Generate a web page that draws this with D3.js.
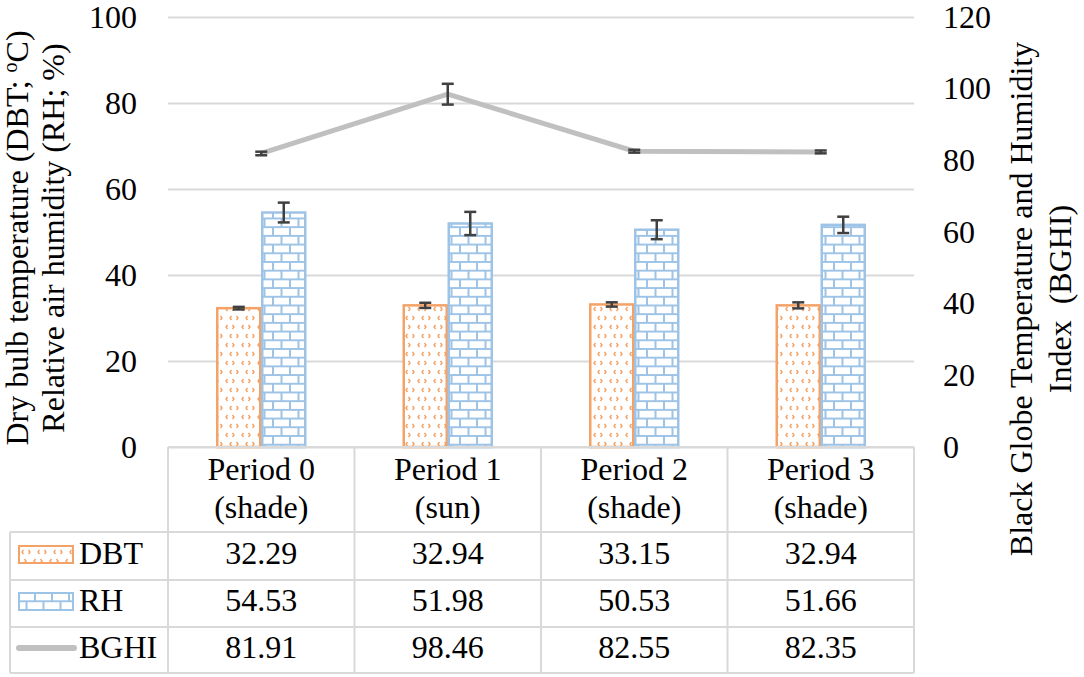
<!DOCTYPE html>
<html>
<head>
<meta charset="utf-8">
<script src="https://cdn.jsdelivr.net/npm/d3@7"></script>
<style>
  body { margin: 0; background: #fff; }
  svg text { font-family: 'Liberation Serif', 'Times New Roman', Tinos, 'DejaVu Serif', serif !important; fill: #000; }
</style>
</head>
<body>
<svg id="chart" width="1084" height="677"></svg>
<script>
// data
var periods = ["Period 0", "Period 1", "Period 2", "Period 3"];
var periodSub = ["(shade)", "(sun)", "(shade)", "(shade)"];
var dbt = [32.29, 32.94, 33.15, 32.94];
var dbtErr = [0.3, 0.6, 0.5, 0.7];
var rh = [54.53, 51.98, 50.53, 51.66];
var rhErr = [2.3, 2.7, 2.2, 1.9];
var bghi = [81.91, 98.46, 82.55, 82.35];
var bghiErr = [0.5, 2.9, 0.4, 0.4];
var leftTicks = [0, 20, 40, 60, 80, 100];
var rightTicks = [0, 20, 40, 60, 80, 100, 120];

var svg = d3.select('#chart');
var plotL = 168, plotR = 914, plotT = 17, plotB = 447;
var gridColor = '#d9d9d9';
var serif = "'Liberation Serif', 'Times New Roman', Tinos, 'DejaVu Serif', serif";

var yL = d3.scaleLinear().domain([0, 100]).range([plotB, plotT]);
var yR = d3.scaleLinear().domain([0, 120]).range([plotB, plotT]);
var x = d3.scaleBand().domain(periods).range([plotL, plotR]);
var xs = d3.scaleBand().domain(['DBT', 'RH']).range([0, 90]);

// patterns
var defs = svg.append('defs');
var pDots = defs.append('pattern')
  .attr('id', 'dots').attr('patternUnits', 'userSpaceOnUse')
  .attr('width', 16).attr('height', 18);
pDots.append('rect').attr('width', 16).attr('height', 18).attr('fill', '#fff');
[[2, 3, 1], [10, 3, -1], [6, 12, 1], [14, 12, -1]].forEach(function (m) {
  pDots.append('path')
    .attr('d', 'M' + (m[0] + 1.5 * m[2]) + ' ' + (m[1] - 2) + ' L' + m[0] + ' ' + m[1] + ' L' + (m[0] + 1.5 * m[2]) + ' ' + (m[1] + 2))
    .attr('fill', 'none').attr('stroke', '#f4a266').attr('stroke-width', 1.4);
});

var pBrick = defs.append('pattern')
  .attr('id', 'brick').attr('patternUnits', 'userSpaceOnUse')
  .attr('width', 34).attr('height', 17.4);
pBrick.append('rect').attr('width', 34).attr('height', 17.4).attr('fill', '#fff');
pBrick.append('path')
  .attr('d', 'M0 1 H34 M0 9.7 H34 M1 1 V9.7 M18 1 V9.7 M9.5 9.7 V17.4 M26.5 9.7 V17.4')
  .attr('stroke', '#9dc3e6').attr('stroke-width', 2).attr('fill', 'none');

// gridlines + left axis
var gL = svg.append('g').attr('transform', 'translate(' + plotL + ',0)')
  .call(d3.axisLeft(yL).tickValues(leftTicks).tickSize(-(plotR - plotL)).tickPadding(31));
gL.attr('font-family', serif);
gL.select('.domain').remove();
gL.selectAll('.tick line').attr('stroke', gridColor).attr('stroke-width', 2);
gL.selectAll('.tick text').attr('font-size', 32).attr('fill', '#000');

// right axis
var gR = svg.append('g').attr('transform', 'translate(' + plotR + ',0)')
  .call(d3.axisRight(yR).tickValues(rightTicks).tickSize(0).tickPadding(29));
gR.attr('font-family', serif);
gR.select('.domain').remove();
gR.selectAll('.tick text').attr('font-size', 32).attr('fill', '#000');

// bars
function barX(i, s) { return x(periods[i]) + x.bandwidth() / 2 - 45 + xs(s); }

svg.append('g').selectAll('rect').data(dbt).join('rect')
  .attr('x', function (d, i) { return barX(i, 'DBT') + 1; })
  .attr('y', function (d) { return yL(d); })
  .attr('width', xs.bandwidth() - 2)
  .attr('height', function (d) { return plotB - yL(d); })
  .attr('fill', 'url(#dots)').attr('stroke', '#f4a266').attr('stroke-width', 2.5);

svg.append('g').selectAll('rect').data(rh).join('rect')
  .attr('x', function (d, i) { return barX(i, 'RH') + 1; })
  .attr('y', function (d) { return yL(d); })
  .attr('width', xs.bandwidth() - 2)
  .attr('height', function (d) { return plotB - yL(d); })
  .attr('fill', 'url(#brick)').attr('stroke', '#9dc3e6').attr('stroke-width', 2.5);

// BGHI line
var line = d3.line()
  .x(function (d, i) { return x(periods[i]) + x.bandwidth() / 2; })
  .y(function (d) { return yR(d); });
svg.append('path').datum(bghi)
  .attr('d', line).attr('fill', 'none')
  .attr('stroke', '#c0c0c0').attr('stroke-width', 5);

// error bars
function errBars(vals, errs, cx, y) {
  var g = svg.append('g').attr('stroke', '#404040').attr('stroke-width', 2.5);
  vals.forEach(function (v, i) {
    var c = cx(i);
    var y1 = y(v + errs[i]), y2 = y(v - errs[i]);
    g.append('line').attr('x1', c).attr('x2', c).attr('y1', y1).attr('y2', y2);
    g.append('line').attr('x1', c - 6).attr('x2', c + 6).attr('y1', y1).attr('y2', y1);
    g.append('line').attr('x1', c - 6).attr('x2', c + 6).attr('y1', y2).attr('y2', y2);
  });
}
errBars(dbt, dbtErr, function (i) { return barX(i, 'DBT') + xs.bandwidth() / 2; }, yL);
errBars(rh, rhErr, function (i) { return barX(i, 'RH') + xs.bandwidth() / 2; }, yL);
errBars(bghi, bghiErr, function (i) { return x(periods[i]) + x.bandwidth() / 2; }, yR);

// data table
var rowY = [532, 580, 627, 673];
var tb = svg.append('g').attr('stroke', gridColor).attr('stroke-width', 2);
tb.append('line').attr('x1', plotL).attr('x2', plotR).attr('y1', plotB).attr('y2', plotB);
rowY.forEach(function (y) {
  tb.append('line').attr('x1', 10).attr('x2', plotR).attr('y1', y).attr('y2', y);
});
tb.append('line').attr('x1', 10).attr('x2', 10).attr('y1', rowY[0]).attr('y2', rowY[3]);
periods.concat(['end']).forEach(function (p, i) {
  var xx = plotL + i * x.bandwidth();
  tb.append('line').attr('x1', xx).attr('x2', xx).attr('y1', plotB).attr('y2', rowY[3]);
});

var tt = svg.append('g').attr('font-size', 32).attr('font-family', serif).attr('text-anchor', 'middle');
periods.forEach(function (p, i) {
  var c = x(p) + x.bandwidth() / 2;
  tt.append('text').attr('x', c).attr('y', 480).text(p);
  tt.append('text').attr('x', c).attr('y', 518).text(periodSub[i]);
  tt.append('text').attr('x', c).attr('y', 564).text(dbt[i].toFixed(2));
  tt.append('text').attr('x', c).attr('y', 611).text(rh[i].toFixed(2));
  tt.append('text').attr('x', c).attr('y', 658).text(bghi[i].toFixed(2));
});

// legend keys in the table
svg.append('rect').attr('x', 19).attr('y', 546).attr('width', 54).attr('height', 17)
  .attr('fill', 'url(#dots)').attr('stroke', '#f4a266').attr('stroke-width', 2);
svg.append('rect').attr('x', 19).attr('y', 593).attr('width', 54).attr('height', 17)
  .attr('fill', 'url(#brick)').attr('stroke', '#9dc3e6').attr('stroke-width', 2);
svg.append('line').attr('x1', 19).attr('x2', 74).attr('y1', 648).attr('y2', 648)
  .attr('stroke', '#c0c0c0').attr('stroke-width', 6).attr('stroke-linecap', 'round');
var lg = svg.append('g').attr('font-size', 32).attr('font-family', serif);
lg.append('text').attr('x', 79).attr('y', 564).text('DBT');
lg.append('text').attr('x', 79).attr('y', 611).text('RH');
lg.append('text').attr('x', 79).attr('y', 658).text('BGHI');

// axis titles
var lt = svg.append('text').attr('font-size', 32).attr('font-family', serif).attr('text-anchor', 'middle')
  .attr('transform', 'translate(0,238) rotate(-90)');
var l1 = lt.append('tspan').attr('x', 0).attr('y', 28).text('Dry bulb temperature (DBT; ');
l1.append('tspan').attr('font-size', 20).attr('dy', -11).text('o');
l1.append('tspan').attr('dy', 11).text('C)');
lt.append('tspan').attr('x', 0).attr('y', 64).text('Relative air humidity (RH; %)');

var rt = svg.append('text').attr('font-size', 32).attr('font-family', serif).attr('text-anchor', 'middle')
  .attr('transform', 'translate(0,299) rotate(-90)');
rt.append('tspan').attr('x', 0).attr('y', 1032).text('Black Globe Temperature and Humidity');
rt.append('tspan').attr('x', 0).attr('y', 1071).text('Index  (BGHI)').attr('xml:space', 'preserve');
</script>
</body>
</html>
